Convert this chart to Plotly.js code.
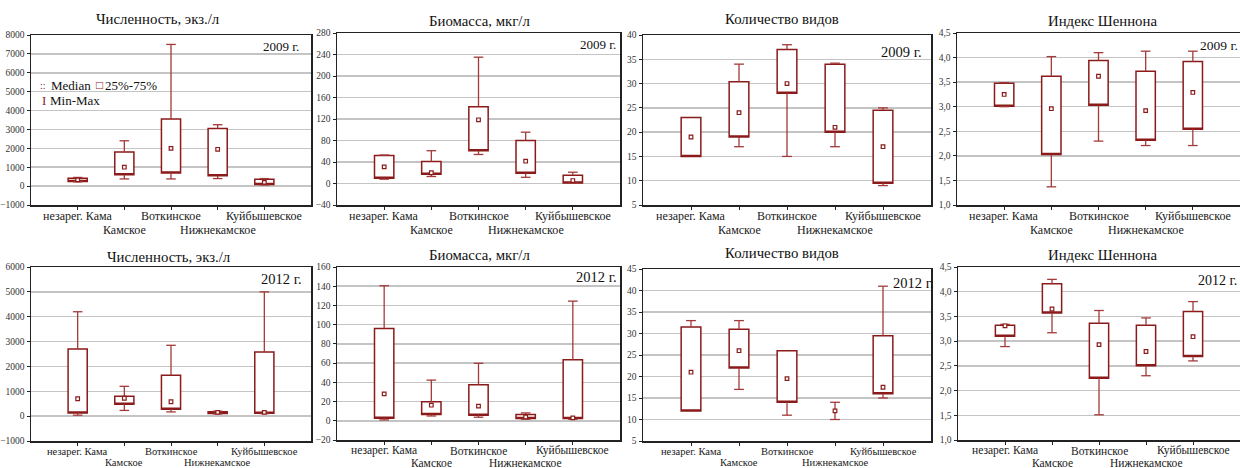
<!DOCTYPE html>
<html>
<head>
<meta charset="utf-8">
<script src="https://cdn.plot.ly/plotly-3.0.1.min.js"></script>
<style>
html,body{margin:0;padding:0;background:#fff;}
#chart{width:1240px;height:468px;}
</style>
</head>
<body>
<div id="chart"></div>
<script>
// ---------- data ----------
const categories = ['незарег. Кама', 'Камское', 'Воткинское', 'Нижнекамское', 'Куйбышевское'];
const titles = ['Численность, экз./л', 'Биомасса, мкг/л', 'Количество видов', 'Индекс Шеннона'];
const years = ['2009 г.', '2012 г.'];
const legendLabels = ['Median', '25%-75%', 'Min-Max'];

// 2009 — численность
const num2009Min = [230, 380, 380, 400, 60];
const num2009Q1  = [240, 600, 700, 550, 90];
const num2009Med = [330, 1000, 2000, 1950, 200];
const num2009Q3  = [410, 1800, 3550, 3050, 360];
const num2009Max = [460, 2400, 7500, 3250, 400];
// 2009 — биомасса
const bio2009Min = [8, 13, 54, 11.5, 0.5];
const bio2009Q1  = [10, 17, 61, 19, 1];
const bio2009Med = [31, 20, 118.5, 41.5, 5.5];
const bio2009Q3  = [52, 41, 143, 80, 15.5];
const bio2009Max = [53, 61, 235, 95.5, 21];
// 2009 — количество видов
const sp2009Min = [15, 17, 15, 17, 9];
const sp2009Q1  = [15, 19, 28, 20, 9.5];
const sp2009Med = [19, 24, 30, 21, 17];
const sp2009Q3  = [23, 30.4, 37, 34, 24.5];
const sp2009Max = [23, 34, 38, 34.2, 25];
// 2009 — индекс Шеннона
const sh2009Min = [3.0, 1.37, 2.3, 2.21, 2.21];
const sh2009Q1  = [3.01, 2.03, 3.03, 2.32, 2.54];
const sh2009Med = [3.25, 2.96, 3.62, 2.92, 3.29];
const sh2009Q3  = [3.48, 3.62, 3.94, 3.72, 3.92];
const sh2009Max = [3.49, 4.02, 4.1, 4.13, 4.13];
// 2012 — численность
const num2012Min = [40, 230, 170, 90, 100];
const num2012Q1  = [130, 480, 280, 110, 120];
const num2012Med = [700, 720, 580, 150, 150];
const num2012Q3  = [2700, 800, 1650, 180, 2580];
const num2012Max = [4200, 1200, 2850, 200, 5000];
// 2012 — биомасса
const bio2012Min = [0.9, 5, 3.7, 1.6, 1.6];
const bio2012Q1  = [2.6, 6.5, 5.8, 2.3, 2.3];
const bio2012Med = [28, 16.2, 15.2, 4, 3];
const bio2012Q3  = [96, 19.7, 37.5, 6.5, 63.6];
const bio2012Max = [140.5, 42.3, 59.8, 8.2, 124.5];
// 2012 — количество видов
const sp2012Min = [12, 17, 11, 10, 15];
const sp2012Q1  = [12, 22, 14, 12, 16];
const sp2012Med = [21, 26, 19.5, 12, 17.5];
const sp2012Q3  = [31.5, 31, 26, 12, 29.5];
const sp2012Max = [33, 33, 26, 14, 41];
// 2012 — индекс Шеннона
const sh2012Min = [2.89, 3.17, 1.51, 2.3, 2.6];
const sh2012Q1  = [3.1, 3.57, 2.25, 2.5, 2.69];
const sh2012Med = [3.31, 3.65, 2.93, 2.79, 3.09];
const sh2012Q3  = [3.32, 4.16, 3.36, 3.32, 3.6];
const sh2012Max = [3.34, 4.25, 3.62, 3.47, 3.8];

// y axis ticks
const yRanges = [[-1000, 8000], [-40, 280], [5, 40], [1.0, 4.5], [-1000, 6000], [-20, 160], [5, 45], [1.0, 4.5]];
const yDticks = [1000, 40, 5, 0.5, 1000, 20, 5, 0.5];

// ---------- styling / layout ----------
const W = 1240, H = 468;
const FONT = '"Liberation Serif", "Times New Roman", serif';
const BOX = '#8b1a1a';
const WHISK = '#a33a3a';
const BOXW = 0.41;
const CAP = BOXW * 0.5 / 2;
const panels = [
  {stats:[num2009Min,num2009Q1,num2009Med,num2009Q3,num2009Max], px:[31,311], py:[35,205], title:0, titlePos:[158,19], year:0, yearPos:[300,47,'right',13], xfs:12, lab:[11,25]},
  {stats:[bio2009Min,bio2009Q1,bio2009Med,bio2009Q3,bio2009Max], px:[337,620], py:[33,205], title:1, titlePos:[479,21], year:0, yearPos:[617,45,'right',13], xfs:12, lab:[11,25]},
  {stats:[sp2009Min,sp2009Q1,sp2009Med,sp2009Q3,sp2009Max], px:[643,931], py:[35,205], title:2, titlePos:[782,19], year:0, yearPos:[923,52,'right',14.5], xfs:12, lab:[11,25]},
  {stats:[sh2009Min,sh2009Q1,sh2009Med,sh2009Q3,sh2009Max], px:[957,1240], py:[33,205], title:3, titlePos:[1102,21], year:0, yearPos:[1239,46,'right',13.5], xfs:12, lab:[11,25]},
  {stats:[num2012Min,num2012Q1,num2012Med,num2012Q3,num2012Max], px:[31,311], py:[267,441], title:0, titlePos:[169,257], year:1, yearPos:[303,279,'right',14.5], xfs:10.5, lab:[10,21.5]},
  {stats:[bio2012Min,bio2012Q1,bio2012Med,bio2012Q3,bio2012Max], px:[337,620], py:[267,440], title:1, titlePos:[479,255], year:1, yearPos:[618,277,'right',14.5], xfs:11.5, lab:[10.5,22.5]},
  {stats:[sp2012Min,sp2012Q1,sp2012Med,sp2012Q3,sp2012Max], px:[643,931], py:[269,441], title:2, titlePos:[782,253], year:1, yearPos:[892,283,'left',14.5], xfs:10.5, lab:[10,21.5]},
  {stats:[sh2012Min,sh2012Q1,sh2012Med,sh2012Q3,sh2012Max], px:[958,1240], py:[267,440], title:3, titlePos:[1102,255], year:1, yearPos:[1238,280,'right',14], xfs:11.5, lab:[10.5,22.5]}
];

const xpos = categories.map((c, i) => i);

const fx = v => v / W;
const fy = v => 1 - v / H;

const data = [];
const layout = {
  width: W, height: H,
  margin: {l: 0, r: 0, t: 0, b: 0},
  paper_bgcolor: '#fff', plot_bgcolor: '#fff',
  showlegend: false,
  boxmode: 'overlay',
  separators: ', ',
  font: {family: FONT, color: '#111'},
  annotations: []
};

panels.forEach((p, k) => {
  const n = k === 0 ? '' : String(k + 1);
  const xa = 'x' + n, ya = 'y' + n;
  const [mn, q1, med, q3, mx] = p.stats;

  // whiskers (min-max) as line segments with caps
  const wx = [], wy = [];
  xpos.forEach(i => {
    if (mx[i] > q3[i]) {
      wx.push(i, i, null, i - CAP, i + CAP, null);
      wy.push(q3[i], mx[i], null, mx[i], mx[i], null);
    }
    if (mn[i] < q1[i]) {
      wx.push(i, i, null, i - CAP, i + CAP, null);
      wy.push(q1[i], mn[i], null, mn[i], mn[i], null);
    }
  });
  data.push({
    type: 'scatter', mode: 'lines', x: wx, y: wy, connectgaps: false,
    line: {color: WHISK, width: 1.3},
    xaxis: xa, yaxis: ya, hoverinfo: 'skip'
  });

  // boxes (25%-75%), only where the box has height
  const bi = xpos.filter(i => q3[i] > q1[i]);
  data.push({
    type: 'box', x: bi, q1: bi.map(i => q1[i]), median: bi.map(i => q1[i]), q3: bi.map(i => q3[i]),
    lowerfence: bi.map(i => q1[i]), upperfence: bi.map(i => q3[i]),
    width: BOXW, whiskerwidth: 0, boxpoints: false,
    line: {color: BOX, width: 1.5}, fillcolor: '#ffffff',
    xaxis: xa, yaxis: ya, hoverinfo: 'skip'
  });
  // medians
  data.push({
    type: 'scatter', mode: 'markers', x: xpos, y: med,
    marker: {symbol: 'square', size: 3.6, color: '#ffffff', line: {color: BOX, width: 1.2}},
    xaxis: xa, yaxis: ya, hoverinfo: 'skip', cliponaxis: false
  });

  layout['xaxis' + n] = {
    domain: [fx(p.px[0]), fx(p.px[1])],
    anchor: ya,
    range: [-1, 5],
    tickmode: 'array', tickvals: xpos,
    showticklabels: false,
    ticks: 'outside', ticklen: 3, tickcolor: '#222', tickwidth: 1,
    showgrid: false, zeroline: false,
    showline: true, linecolor: '#222', linewidth: 1.5, mirror: true,
    fixedrange: true
  };
  layout['yaxis' + n] = {
    domain: [fy(p.py[1]), fy(p.py[0])],
    anchor: xa,
    range: yRanges[k], dtick: yDticks[k], tick0: yRanges[k][0],
    tickformat: yDticks[k] < 1 ? '.1f' : 'd',
    ticks: 'outside', ticklen: 3, tickcolor: '#222', tickwidth: 1,
    showgrid: true, gridcolor: '#c4c4c4', gridwidth: 1.5,
    zeroline: false,
    showline: true, linecolor: '#222', linewidth: 1.5, mirror: true,
    tickfont: {family: FONT, size: 9.5, color: '#333'},
    fixedrange: true
  };

  // category labels, alternating on two lines
  categories.forEach((c, i) => {
    layout.annotations.push({
      xref: xa, yref: 'paper', x: xpos[i], y: fy(p.py[1] + p.lab[i % 2]),
      xanchor: 'center', yanchor: 'middle', showarrow: false, borderpad: 0,
      text: c, font: {family: FONT, size: p.xfs, color: '#1a1a1a'}
    });
  });

  layout.annotations.push({
    xref: 'paper', yref: 'paper', x: fx(p.titlePos[0]), y: fy(p.titlePos[1]),
    xanchor: 'center', yanchor: 'middle', showarrow: false,
    text: titles[p.title], font: {family: FONT, size: 14.8, color: '#111'}
  });
  layout.annotations.push({
    xref: 'paper', yref: 'paper', x: fx(p.yearPos[0]), y: fy(p.yearPos[1]),
    xanchor: p.yearPos[2], yanchor: 'middle', showarrow: false, borderpad: 0,
    text: years[p.year], font: {family: FONT, size: p.yearPos[3], color: '#111'}
  });
});

// legend in first panel
const legendItems = [
  {x: 43, y: 85, text: '::', size: 10, color: BOX, anchor: 'center'},
  {x: 49, y: 85, text: legendLabels[0], size: 13, color: '#111', anchor: 'left'},
  {x: 99.5, y: 85, text: '□', size: 12, color: BOX, anchor: 'center'},
  {x: 103, y: 85, text: legendLabels[1], size: 13, color: '#111', anchor: 'left'},
  {x: 43.5, y: 100, text: 'I', size: 13, color: BOX, anchor: 'center'},
  {x: 48, y: 100, text: legendLabels[2], size: 13, color: '#111', anchor: 'left'}
];
legendItems.forEach(it => {
  layout.annotations.push({
    xref: 'paper', yref: 'paper', x: fx(it.x), y: fy(it.y),
    xanchor: it.anchor, yanchor: 'middle', showarrow: false,
    text: it.text, font: {family: FONT, size: it.size, color: it.color}
  });
});

Plotly.newPlot('chart', data, layout, {staticPlot: true, displayModeBar: false});
</script>
</body>
</html>
